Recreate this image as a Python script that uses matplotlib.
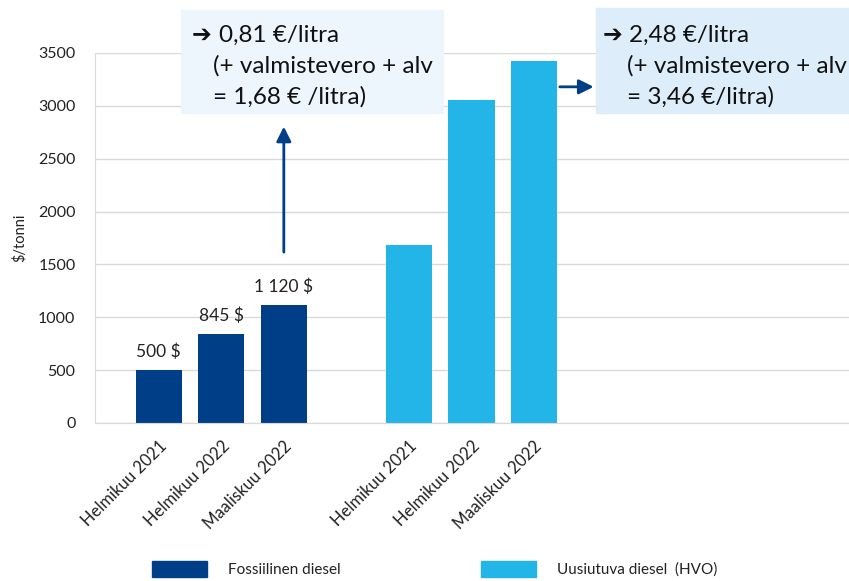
import matplotlib.pyplot as plt
import matplotlib.transforms as mtransforms
from matplotlib.patches import Rectangle, Patch

plt.rcParams['font.family'] = ['Lato', 'DejaVu Sans']

# data
months = ['Helmikuu 2021', 'Helmikuu 2022', 'Maaliskuu 2022']
fossil = [500, 845, 1120]
hvo = [1680, 3055, 3420]
series_names = ['Fossiilinen diesel', 'Uusiutuva diesel  (HVO)']
yticks = [0, 500, 1000, 1500, 2000, 2500, 3000, 3500]

dark = '#003f87'
light = '#23b4e8'
grid_col = '#d9d9d9'

fig = plt.figure(figsize=(8.49, 5.81), dpi=100)
ax = fig.add_axes([95/849, 1-423/581, 1-95/849, 370/581])

x_fossil = [0, 1, 2]
x_hvo = [4, 5, 6]
b1 = ax.bar(x_fossil, fossil, width=0.74, color=dark)
b2 = ax.bar(x_hvo, hvo, width=0.74, color=light)

# value labels only on fossil bars
lbls = [f'{v:,}'.replace(',', ' ') + ' $' for v in fossil]
ax.bar_label(b1, labels=lbls, padding=7, fontsize=12.5, color='#222222')

ax.set_xlim(-1.02, 11.04)
ax.set_ylim(0, 3500)
ax.set_yticks(yticks)
ax.set_xticks(x_fossil + x_hvo)
ax.set_xticklabels(months + months, rotation=45, ha='right',
                   rotation_mode='anchor', fontsize=12, color='#222222')
# nudge the rotated labels to the right like the original
offset = mtransforms.ScaledTranslation(16/100, 0, fig.dpi_scale_trans)
for lab in ax.get_xticklabels():
    lab.set_transform(lab.get_transform() + offset)
ax.tick_params(axis='y', labelsize=11.5, labelcolor='#222222', length=0, pad=14)
ax.tick_params(axis='x', length=0, pad=11)
ax.yaxis.grid(True, color=grid_col, lw=1)
ax.set_axisbelow(True)
for s in ['top', 'right']:
    ax.spines[s].set_visible(False)
for s in ['left', 'bottom']:
    ax.spines[s].set_color(grid_col)
ax.set_ylabel('$/tonni', fontsize=10.5, color='#222222', labelpad=8)

# arrows
ax.annotate('', xy=(2.0, 2830), xytext=(2.0, 1590),
            arrowprops=dict(arrowstyle='-|>', color=dark, lw=2, mutation_scale=22))
ax.annotate('', xy=(7.0, 3180), xytext=(6.37, 3180),
            arrowprops=dict(arrowstyle='-|>', color=dark, lw=2, mutation_scale=22))

# annotation boxes
fig.patches.append(Rectangle((181/849, 1-113/581), 262/849, 103/581,
                             transform=fig.transFigure, color='#eef6fd', zorder=0))
fig.patches.append(Rectangle((596/849, 1-113/581), 253/849, 105/581,
                             transform=fig.transFigure, color='#ddeefa', zorder=0))

def box_text(xa, x0, x1, lines):
    fig.text(xa/849, 1-42/581, '\u2794', fontsize=17, color='#111111',
             family=['DejaVu Sans'], weight='bold')
    fig.text(x0/849, 1-42/581, lines[0], fontsize=17.5, color='#111111')
    fig.text(x1/849, 1-73/581, lines[1], fontsize=17.5, color='#111111')
    fig.text(x1/849, 1-104/581, lines[2], fontsize=17.5, color='#111111')

box_text(192, 219, 213, ['0,81 €/litra', '(+ valmistevero + alv', '= 1,68 € /litra)'])
box_text(603, 629, 627, ['2,48 €/litra', '(+ valmistevero + alv', '= 3,46 €/litra)'])

handles = [Patch(color=dark), Patch(color=light)]
fig.legend(handles, series_names, loc='upper left', bbox_to_anchor=(152/849, 1-561/581),
           ncol=2, frameon=False, fontsize=11, handlelength=3.6, handleheight=1.2,
           handletextpad=1.37, columnspacing=9.2, borderpad=0, borderaxespad=0,
           labelcolor='#222222')

fig.savefig('out.png', dpi=100)
